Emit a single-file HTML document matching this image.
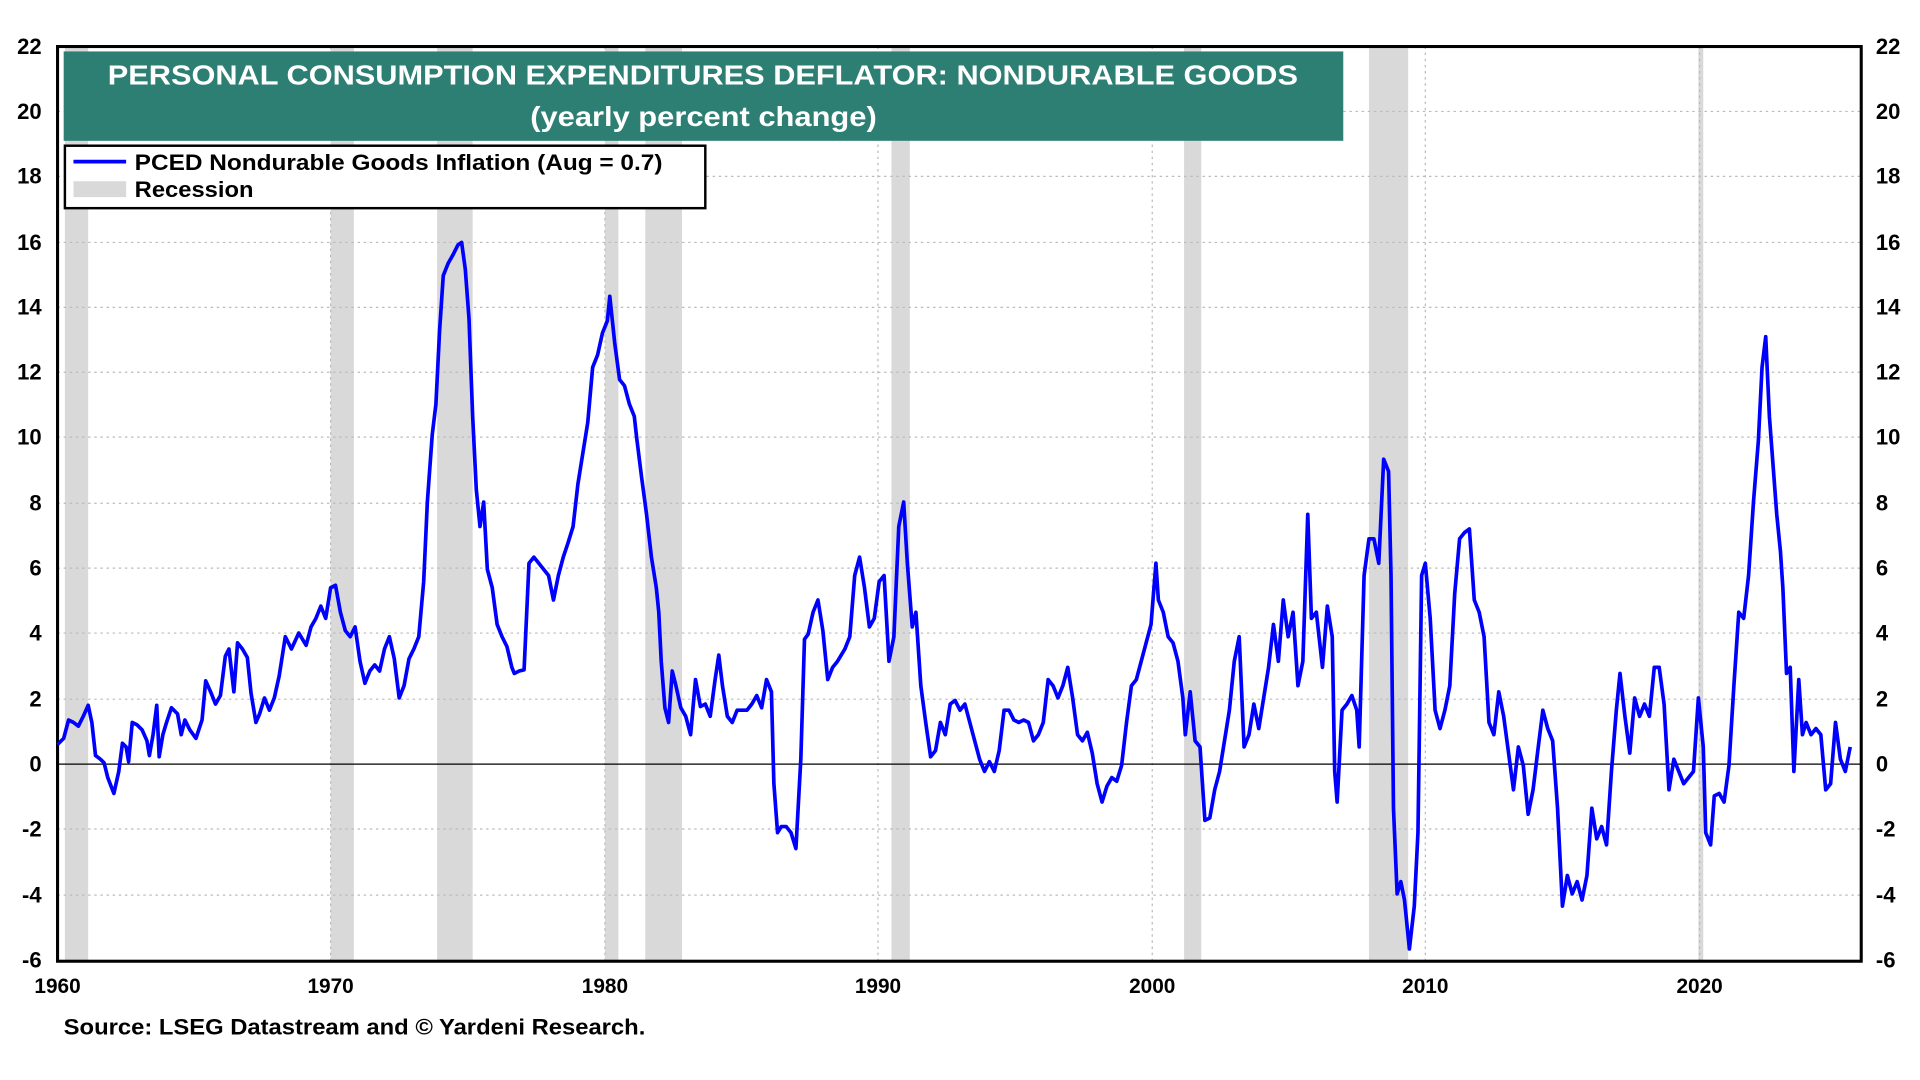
<!DOCTYPE html>
<html><head><style>html,body{margin:0;padding:0;background:#fff}svg{display:block}</style></head><body>
<svg width="1920" height="1080" viewBox="0 0 1568 882" xmlns="http://www.w3.org/2000/svg" font-family="Liberation Sans, sans-serif" font-weight="bold">
<rect width="1568" height="882" fill="#fff"/>
<g fill="#d9d9d9">
<rect x="53" y="38" width="19" height="747"/><rect x="270" y="38" width="19" height="747"/>
<rect x="357" y="38" width="29" height="747"/><rect x="494" y="38" width="11" height="747"/>
<rect x="527" y="38" width="30" height="747"/><rect x="728" y="38" width="15" height="747"/>
<rect x="967" y="38" width="14" height="747"/><rect x="1118" y="38" width="32" height="747"/>
<rect x="1387" y="38" width="4" height="747"/>
</g>
<g stroke="#bbb" stroke-width="1" stroke-dasharray="2,3">
<line x1="47" x2="1520" y1="91" y2="91"/><line x1="47" x2="1520" y1="144" y2="144"/><line x1="47" x2="1520" y1="198" y2="198"/><line x1="47" x2="1520" y1="251" y2="251"/><line x1="47" x2="1520" y1="304" y2="304"/><line x1="47" x2="1520" y1="357" y2="357"/><line x1="47" x2="1520" y1="411" y2="411"/><line x1="47" x2="1520" y1="464" y2="464"/><line x1="47" x2="1520" y1="517" y2="517"/><line x1="47" x2="1520" y1="571" y2="571"/><line x1="47" x2="1520" y1="677" y2="677"/><line x1="47" x2="1520" y1="731" y2="731"/>
<line y1="38" y2="785" x1="270" x2="270"/><line y1="38" y2="785" x1="494" x2="494"/><line y1="38" y2="785" x1="717" x2="717"/><line y1="38" y2="785" x1="941" x2="941"/><line y1="38" y2="785" x1="1164" x2="1164"/><line y1="38" y2="785" x1="1388" x2="1388"/>
</g>
<line x1="47" x2="1520" y1="624" y2="624" stroke="#000" stroke-width="1"/>
<rect x="47" y="38" width="1473" height="747" fill="none" stroke="#000" stroke-width="2.5"/>
<polyline fill="none" stroke="#0000ff" stroke-width="3" stroke-linejoin="round" points="47,608 52,603 56,588 60,590 64,593 68,585 72,576 75,590 78,617 82,620 85,623 88,635 93,648 97,630 100,607 103,610 105,622 108,590 112,592 116,596 120,605 122,617 125,600 128,576 130,618 133,600 136,590 140,578 145,583 148,600 151,588 155,596 160,603 165,588 168,556 172,565 176,575 180,568 184,536 187,530 191,565 194,525 198,530 202,537 205,566 209,590 212,583 216,570 220,580 224,570 228,552 233,520 238,530 244,517 250,527 254,512 258,505 262,495 266,505 270,480 274,478 278,500 282,515 286,520 290,512 294,540 298,558 302,548 306,543 310,548 314,530 318,520 322,538 326,570 330,560 334,538 338,530 342,520 346,475 349,410 353,355 356,330 359,270 362,225 366,215 370,208 374,200 377,198 380,220 383,260 386,340 389,400 392,430 395,410 398,465 402,480 406,510 410,520 414,528 418,545 420,550 424,548 428,547 432,460 436,455 440,460 444,465 448,470 452,490 456,470 460,455 464,443 468,430 472,395 476,370 480,345 484,300 488,290 492,272 496,262 498,242 502,280 506,310 510,315 514,330 518,340 520,358 524,390 528,420 532,455 536,480 538,500 540,540 543,578 546,590 549,548 552,560 556,578 560,585 564,600 568,555 572,577 576,575 580,585 584,555 587,535 590,560 594,585 598,590 602,580 606,580 610,580 614,575 618,568 622,578 626,555 630,565 632,640 635,680 638,675 642,675 646,680 650,693 654,620 657,522 660,518 664,500 668,490 672,515 676,555 680,545 684,540 690,530 694,520 698,470 702,455 706,480 710,512 714,505 718,475 722,470 726,540 730,520 734,430 738,410 741,460 745,512 748,500 752,560 756,590 760,618 764,613 768,590 772,600 776,575 780,572 784,580 788,575 792,590 796,605 800,620 804,630 808,622 812,630 816,613 820,580 824,580 828,588 832,590 836,588 840,590 844,605 848,600 852,590 856,555 860,560 864,570 868,560 872,545 876,570 880,600 884,605 888,598 892,615 896,640 900,655 904,642 908,635 912,638 916,625 920,590 924,560 928,555 932,540 936,525 940,510 944,460 946,490 950,500 954,520 958,525 962,540 966,570 968,600 972,565 976,605 980,610 984,670 988,668 992,645 996,630 1000,605 1004,580 1008,540 1012,520 1016,610 1020,600 1024,575 1028,595 1032,570 1036,545 1040,510 1044,540 1048,490 1052,520 1056,500 1060,560 1064,540 1068,420 1071,505 1075,500 1080,545 1084,495 1088,520 1090,630 1092,655 1096,580 1100,575 1104,568 1108,580 1110,610 1114,470 1118,440 1122,440 1126,460 1130,375 1134,385 1136,470 1138,660 1141,730 1144,720 1147,735 1151,775 1155,740 1158,680 1161,470 1164,460 1168,505 1172,580 1176,595 1180,580 1184,560 1188,485 1192,440 1196,435 1200,432 1204,490 1208,500 1212,520 1216,590 1220,600 1224,565 1228,585 1232,615 1236,645 1240,610 1244,625 1248,665 1252,645 1256,612 1260,580 1264,595 1268,605 1272,660 1276,740 1280,715 1284,730 1288,720 1292,735 1296,715 1300,660 1304,685 1308,675 1312,690 1316,630 1320,580 1323,550 1327,585 1331,615 1335,570 1339,585 1343,575 1347,585 1351,545 1355,545 1359,575 1363,645 1367,620 1371,630 1375,640 1379,635 1383,630 1387,570 1391,610 1393,680 1397,690 1400,650 1404,648 1408,655 1412,625 1416,560 1420,500 1424,505 1428,470 1432,410 1436,360 1439,300 1442,275 1445,340 1448,380 1451,420 1454,450 1456,480 1459,550 1462,545 1465,630 1469,555 1472,600 1475,590 1479,600 1483,595 1487,600 1491,645 1495,640 1499,590 1503,620 1507,630 1511,610"/>
<rect x="52" y="42" width="1045" height="73" fill="#2e7f73"/>
<text x="88" y="69" fill="#fff" font-size="23" textLength="972" lengthAdjust="spacingAndGlyphs">PERSONAL CONSUMPTION EXPENDITURES DEFLATOR: NONDURABLE GOODS</text>
<text x="433" y="103" fill="#fff" font-size="23" textLength="283" lengthAdjust="spacingAndGlyphs">(yearly percent change)</text>
<rect x="53" y="119" width="523" height="51" fill="#fff" stroke="#000" stroke-width="2"/>
<line x1="60" x2="103" y1="132" y2="132" stroke="#0000ff" stroke-width="3"/>
<rect x="60" y="148" width="43" height="13" fill="#d9d9d9"/>
<text x="110" y="139" font-size="18" textLength="431" lengthAdjust="spacingAndGlyphs">PCED Nondurable Goods Inflation  (Aug = 0.7)</text>
<text x="110" y="161" font-size="18" textLength="97" lengthAdjust="spacingAndGlyphs">Recession</text>
<g font-size="18" text-anchor="end">
<text x="34" y="44">22</text><text x="34" y="97">20</text><text x="34" y="150">18</text><text x="34" y="204">16</text><text x="34" y="257">14</text><text x="34" y="310">12</text><text x="34" y="363">10</text><text x="34" y="417">8</text><text x="34" y="470">6</text><text x="34" y="523">4</text><text x="34" y="577">2</text><text x="34" y="630">0</text><text x="34" y="683">-2</text><text x="34" y="737">-4</text><text x="34" y="790">-6</text>
</g>
<g font-size="18" text-anchor="start">
<text x="1532" y="44">22</text><text x="1532" y="97">20</text><text x="1532" y="150">18</text><text x="1532" y="204">16</text><text x="1532" y="257">14</text><text x="1532" y="310">12</text><text x="1532" y="363">10</text><text x="1532" y="417">8</text><text x="1532" y="470">6</text><text x="1532" y="523">4</text><text x="1532" y="577">2</text><text x="1532" y="630">0</text><text x="1532" y="683">-2</text><text x="1532" y="737">-4</text><text x="1532" y="790">-6</text>
</g>
<g font-size="17" text-anchor="middle">
<text x="47" y="811">1960</text><text x="270" y="811">1970</text><text x="494" y="811">1980</text><text x="717" y="811">1990</text><text x="941" y="811">2000</text><text x="1164" y="811">2010</text><text x="1388" y="811">2020</text>
</g>
<text x="52" y="845" font-size="18" textLength="475" lengthAdjust="spacingAndGlyphs">Source: LSEG Datastream and © Yardeni Research.</text>
</svg>
</body></html>
